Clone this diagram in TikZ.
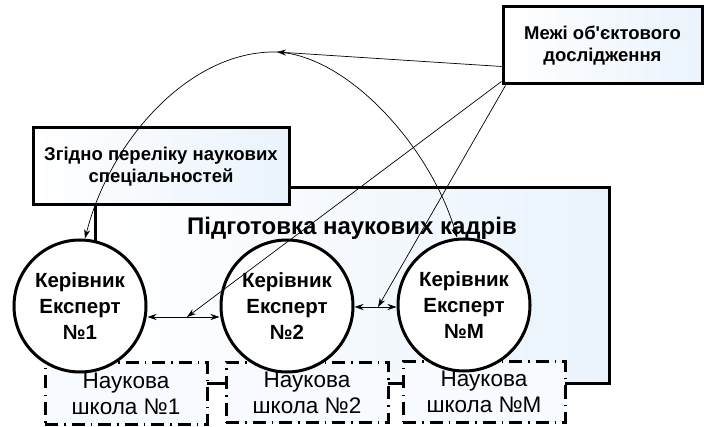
\documentclass[tikz,border=0pt]{standalone}
\usepackage{fontspec}
\setmainfont{Liberation Sans}[Ligatures=TeXOff]
\usetikzlibrary{arrows.meta}
\definecolor{lightb}{RGB}{234,243,252}
\tikzset{
  textbox/.style={draw, line width=3pt, left color=white, right color=lightb, align=center,
    inner sep=0pt, font=\bfseries\fontsize{18.5}{22}\selectfont},
  framebox/.style={draw, line width=3pt, left color=white, right color=lightb, inner sep=0pt},
  expert/.style={draw, circle, line width=3pt, fill=white, minimum size=132pt, inner sep=0pt,
    align=center, font=\bfseries\fontsize{20.5}{26}\selectfont},
  school/.style={draw, line width=3pt, dash pattern=on 13pt off 6pt on 1.5pt off 6pt,
    fill=lightb!40, inner sep=0pt, align=center, font=\fontsize{22.5}{26}\selectfont},
  arr/.style={-{Stealth[length=9pt,width=6pt]}, line width=0.7pt},
  darr/.style={{Stealth[length=9pt,width=6pt]}-{Stealth[length=9pt,width=6pt]}, line width=0.7pt}
}
\begin{document}
\begin{tikzpicture}[x=1pt,y=-1pt]
\useasboundingbox (0,0) rectangle (704,427);
% big frame
\node[framebox, minimum width=514pt, minimum height=196pt] (frame) at (352,286) {};
\node[font=\bfseries\fontsize{24}{26}\selectfont] (title) at (352,228) {Підготовка наукових кадрів};
% boxes
\node[textbox, minimum width=256pt, minimum height=77pt] (b1) at (161,166.5) {Згідно переліку наукових\\спеціальностей};
\node[textbox, minimum width=199pt, minimum height=77pt] (b2) at (602.5,45.5) {Межі об'єктового\\дослідження};
% schools
\node[school, minimum width=162pt, minimum height=61pt] (s1) at (126,393.5) {Наукова\\школа №1};
\node[school, minimum width=162pt, minimum height=60pt] (s2) at (307,392.5) {Наукова\\школа №2};
\node[school, minimum width=162pt, minimum height=60pt] (sM) at (484,392) {Наукова\\школа №M};
% experts
\node[expert] (c1) at (80,306) {Керівник\\Експерт\\№1};
\node[expert] (c2) at (287,306) {Керівник\\Експерт\\№2};
\node[expert] (cM) at (464,305) {Керівник\\Експерт\\№M};
% connectors
\coordinate (apex) at (277,52);
\coordinate (m12) at (187,317);
\coordinate (m2M) at (378,307);
\draw[darr] (c1.east |- m12) -- (c2.west |- m12);
\draw[darr] (c2.east |- m2M) -- (cM.west |- m2M);
\draw[arr] ([yshift=-21pt]b2.west) -- (apex);
\draw[arr] (apex) .. controls (190,50) and (110,140) .. ([xshift=5pt]c1.north);
\draw[arr] (apex) .. controls (350,56) and (432,150) .. ([xshift=-7pt]cM.north);
\draw[arr] ([yshift=4pt]b2.south west) -- (m12);
\draw[arr] ([xshift=4pt]b2.south west) -- (m2M);
\end{tikzpicture}
\end{document}
